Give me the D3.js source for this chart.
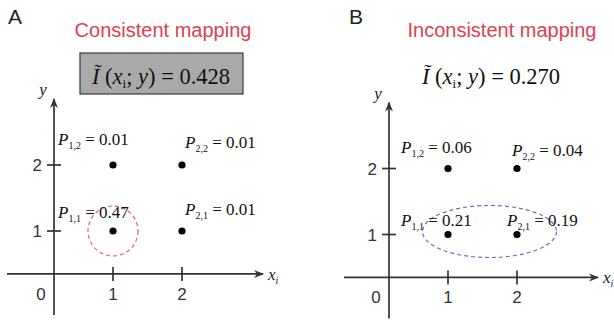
<!DOCTYPE html>
<html>
<head>
<meta charset="utf-8">
<script src="https://cdn.jsdelivr.net/npm/d3@7"></script>
<style>
  html, body { margin: 0; padding: 0; background: #fff; }
  svg { display: block; }
</style>
</head>
<body>
<script>
// ---- data ----
const panelLetters = ["A", "B"];
const panelTitles = ["Consistent mapping", "Inconsistent mapping"];
const infoValues = ["0.428", "0.270"];
const xTicks = [1, 2];
const yTicks = [1, 2];
// joint probabilities P(i,j) at grid point (x = i, y = j)
const cellI = [1, 2, 1, 2];
const cellJ = [2, 2, 1, 1];
const probA = ["0.01", "0.01", "0.47", "0.01"];
const probB = ["0.06", "0.04", "0.21", "0.19"];

// ---- layout ----
const W = 614, H = 325;
const panels = [
  { dx: 0,   dy: 0,   probs: probA, boxed: true,
    labelOff: [[-55, -20], [3, -17], [-55, -13], [3, -16]] },
  { dx: 335, dy: 3.5, probs: probB, boxed: false,
    labelOff: [[-47, -16], [-5, -13], [-47, -9], [-10, -9]] }
];
const serif = "'Liberation Serif', 'Times New Roman', serif";
const sans = "'Liberation Sans', Arial, sans-serif";

const svg = d3.select("body").append("svg").attr("width", W).attr("height", H);
const defs = svg.append("defs");
defs.append("marker").attr("id", "arrow")
  .attr("viewBox", "0 0 10 10").attr("refX", 9).attr("refY", 5)
  .attr("markerWidth", 10).attr("markerHeight", 10).attr("markerUnits", "userSpaceOnUse")
  .attr("orient", "auto")
  .append("path").attr("d", "M0,1 L10,5 L0,9 L3,5 Z").attr("fill", "#333");

panels.forEach((p, k) => {
  const g = svg.append("g");
  const x = d3.scaleLinear().domain([1, 2]).range([113 + p.dx, 182 + p.dx]);
  const y = d3.scaleLinear().domain([1, 2]).range([231 + p.dy, 165 + p.dy]);
  const ox = x(0.145), oy = y(0.35);   // where the drawn axes cross

  // panel letter and title
  g.append("text").attr("x", 8 + p.dx + (k ? 6 : 0)).attr("y", 24)
    .attr("font-family", sans).attr("font-size", 21).attr("fill", "#222")
    .text(panelLetters[k]);
  g.append("text").attr("x", k ? 502 : 163).attr("y", 37).attr("text-anchor", "middle")
    .attr("font-family", sans).attr("font-size", 20).attr("fill", "#e0404f")
    .text(panelTitles[k]);

  // mutual information label
  const cx = k ? 491 : 161;
  if (p.boxed) {
    g.append("rect").attr("x", 80).attr("y", 53).attr("width", 163).attr("height", 41)
      .attr("fill", "#a9a9a9").attr("stroke", "#3a3a3a").attr("stroke-width", 1.2);
  }
  const info = g.append("text").attr("x", cx).attr("y", 84).attr("text-anchor", "middle")
    .attr("font-family", serif).attr("font-size", 22.5).attr("fill", "#111");
  info.append("tspan").attr("font-style", "italic").text("Ĩ");
  info.append("tspan").text(" (");
  info.append("tspan").attr("font-style", "italic").text("x");
  info.append("tspan").attr("font-size", 13).attr("dy", 4).text("i");
  info.append("tspan").attr("dy", -4).text("; ");
  info.append("tspan").attr("font-style", "italic").text("y");
  info.append("tspan").text(") = " + infoValues[k]);

  // axes
  const axisG = g.append("g").attr("stroke", "#333").attr("stroke-width", 1.7);
  axisG.append("line").attr("x1", ox).attr("x2", ox)
    .attr("y1", oy + 41).attr("y2", y(2) - 66).attr("marker-end", "url(#arrow)");
  axisG.append("line").attr("x1", ox - 47 + (k ? 2 : 0)).attr("x2", x(2) + 81)
    .attr("y1", oy).attr("y2", oy).attr("marker-end", "url(#arrow)");
  axisG.selectAll(".xt").data(xTicks).join("line")
    .attr("x1", d => x(d)).attr("x2", d => x(d)).attr("y1", oy - 7).attr("y2", oy + 7);
  axisG.selectAll(".yt").data(yTicks).join("line")
    .attr("y1", d => y(d)).attr("y2", d => y(d)).attr("x1", ox - 7).attr("x2", ox + 7);

  const tickText = g.append("g").attr("font-family", sans).attr("font-size", 17).attr("fill", "#333");
  tickText.selectAll(".xl").data(xTicks).join("text")
    .attr("x", d => x(d)).attr("y", oy + 26).attr("text-anchor", "middle").text(d => d);
  tickText.selectAll(".yl").data(yTicks).join("text")
    .attr("x", ox - 12).attr("y", d => y(d) + 6).attr("text-anchor", "end").text(d => d);
  tickText.append("text").attr("x", ox - 13).attr("y", oy + 26).attr("text-anchor", "middle").text("0");

  // axis names
  g.append("text").attr("x", ox - 11).attr("y", y(2) - 70).attr("text-anchor", "middle")
    .attr("font-family", serif).attr("font-style", "italic").attr("font-size", 17).attr("fill", "#222")
    .text("y");
  const xn = g.append("text").attr("x", x(2) + 86).attr("y", oy + 6)
    .attr("font-family", serif).attr("font-style", "italic").attr("font-size", 17).attr("fill", "#222");
  xn.append("tspan").text("x");
  xn.append("tspan").attr("font-size", 10).attr("dy", 4).text("i");

  // highlighted region
  if (k === 0) {
    g.append("circle").attr("cx", x(1)).attr("cy", y(1)).attr("r", 25)
      .attr("fill", "none").attr("stroke", "#e0607a").attr("stroke-width", 1.2)
      .attr("stroke-dasharray", "4,3");
  } else {
    g.append("ellipse").attr("cx", (x(1) + x(2)) / 2 + 7).attr("cy", y(1) - 3)
      .attr("rx", 67).attr("ry", 26)
      .attr("fill", "none").attr("stroke", "#6572b8").attr("stroke-width", 1.2)
      .attr("stroke-dasharray", "4,3");
  }

  // grid points and probability labels
  const cells = cellI.map((ci, n) => ({ i: ci, j: cellJ[n], v: p.probs[n], off: p.labelOff[n] }));
  g.selectAll(".dot").data(cells).join("circle")
    .attr("cx", d => x(d.i)).attr("cy", d => y(d.j)).attr("r", 3.6).attr("fill", "#000");
  const lab = g.selectAll(".pl").data(cells).join("text")
    .attr("x", d => x(d.i) + d.off[0]).attr("y", d => y(d.j) + d.off[1])
    .attr("font-family", serif).attr("font-size", 17).attr("fill", "#111");
  lab.append("tspan").attr("font-style", "italic").text("P");
  lab.append("tspan").attr("font-size", 10).attr("dy", 4).text(d => d.i + "," + d.j);
  lab.append("tspan").attr("dy", -4).text(d => " = " + d.v);
});
</script>
</body>
</html>
